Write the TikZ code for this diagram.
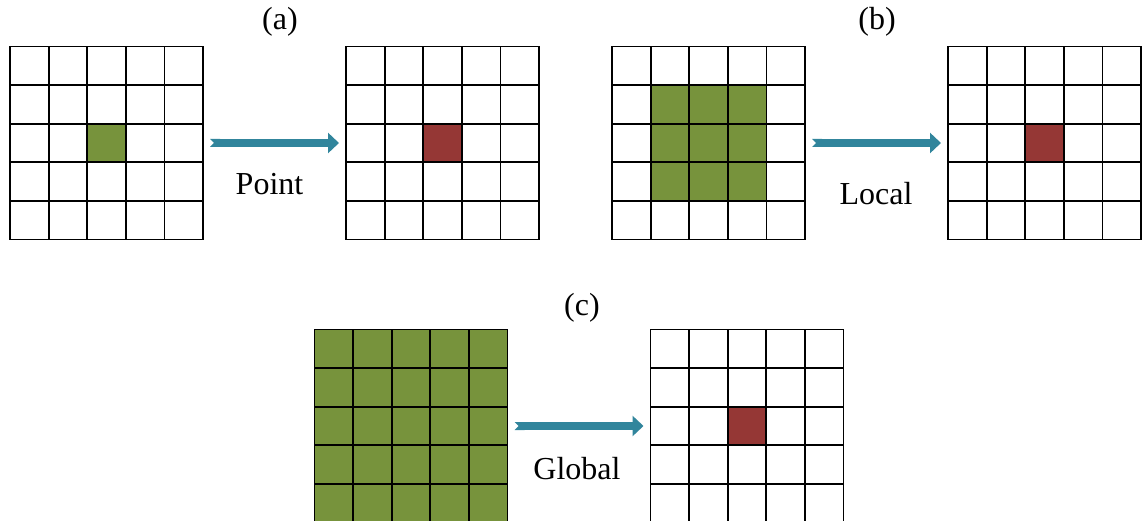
\documentclass[tikz,border=0pt]{standalone}
\usepackage{fontspec}
\setmainfont{Liberation Serif}
\usetikzlibrary{arrows.meta, positioning}
\definecolor{cellgreen}{HTML}{77933C}
\definecolor{cellred}{HTML}{953735}
\definecolor{arrowteal}{HTML}{31859C}
\tikzset{
  gridbox/.style={
    rectangle, minimum width=193pt, minimum height=193pt,
    inner sep=0pt, outer sep=0pt
  },
  gridline/.style={draw=black, line width=1.8pt},
  flow/.style={
    line width=8pt, draw=arrowteal,
    {Triangle Cap[reversed]}-{Triangle[length=11pt, width=20pt]},
    shorten <=7pt, shorten >=7pt
  },
  tag/.style={font=\fontsize{32}{36}\selectfont, inner sep=0pt, anchor=base}
}

\begin{document}
\begin{tikzpicture}[x=1pt, y=1pt]
    \useasboundingbox (0,0) rectangle (1144,520);

    % Top row
    \node[gridbox] (g1) at (106.5,377) {};
    \node[gridbox, right=143pt of g1] (g2) {};
    \node[gridbox, right=73pt of g2] (g3) {};
    \node[gridbox, right=143pt of g3] (g4) {};

    % Bottom row
    \node[gridbox] (g5) at (411,94) {};
    \node[gridbox, right=143pt of g5] (g6) {};

    % Filled cells
    \fill[cellgreen] (g1.center) +(-19.3,-19.3) rectangle +(19.3,19.3);
    \fill[cellgreen] (g3.center) +(-57.9,-57.9) rectangle +(57.9,57.9);
    \fill[cellgreen] (g5.south west) rectangle (g5.north east);
    \fill[cellred] (g2.center) +(-19.3,-19.3) rectangle +(19.3,19.3);
    \fill[cellred] (g4.center) +(-19.3,-19.3) rectangle +(19.3,19.3);
    \fill[cellred] (g6.center) +(-19.3,-19.3) rectangle +(19.3,19.3);

    % Grid lines
    \foreach \i in {1,...,6} {
      \begin{scope}[shift={(g\i.south west)}]
        \draw[gridline] (0,0) grid[step=38.6] (193.1,193.1);
        \draw[gridline] (0,0) rectangle (193,193);
      \end{scope}
    }

    % Arrows
    \draw[flow] (g1) -- (g2);
    \draw[flow] (g3) -- (g4);
    \draw[flow] (g5) -- (g6);

    % Labels
    \node[tag] (capa) at (280,490) {(a)};
    \node[tag] (capb) at (877,490) {(b)};
    \node[tag] (capc) at (582,204) {(c)};
    \node[tag] (point) at (269.5,325) {Point};
    \node[tag] (local) at (876,315) {Local};
    \node[tag] (global) at (577,41) {Global};
  \end{tikzpicture}
\end{document}
